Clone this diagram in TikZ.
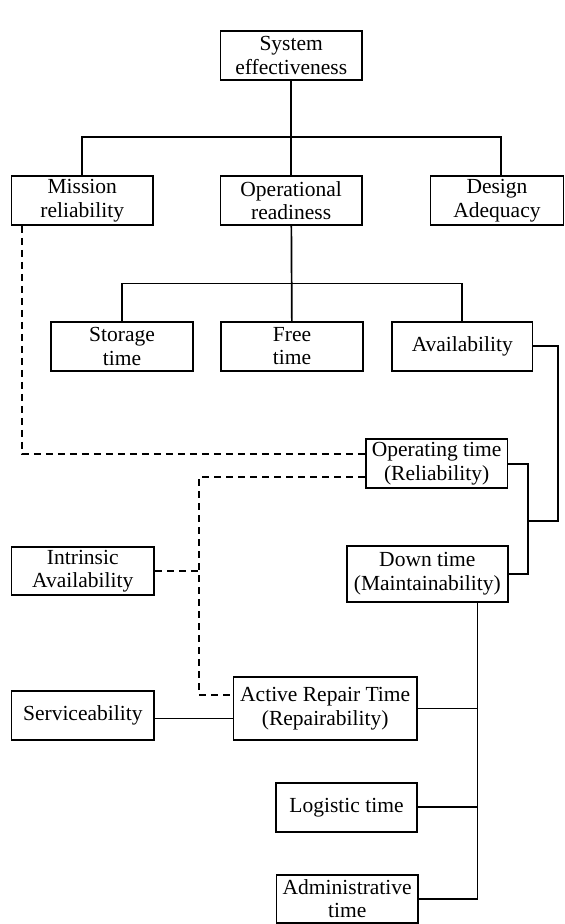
\documentclass[tikz,border=0pt]{standalone}
\usepackage{fontspec}
\setmainfont{Liberation Serif}
\begin{document}
\begin{tikzpicture}[x=1pt, y=-1pt, line width=1.7pt,
  box/.style={draw, align=center, inner sep=0pt, font=\fontsize{21.5}{23.5}\selectfont},
  dashline/.style={dash pattern=on 7pt off 5pt}]
\useasboundingbox (0,0) rectangle (565,924);
\node[box, minimum width=141.5pt, minimum height=49pt] (sys) at (291.2,55.3) {System\\effectiveness};
\node[box, minimum width=141.5pt, minimum height=49pt] (mission) at (82.2,200.5) {Mission\\reliability};
\node[box, minimum width=141.5pt, minimum height=49pt] (oper) at (291.2,200.5) {Operational\\readiness};
\node[box, minimum width=133pt, minimum height=49pt] (design) at (497,200.5) {Design\\Adequacy};
\coordinate (bus1) at (291.2,137);
\draw[] (sys) -- (oper);
\draw[] (mission.north) |- (bus1) -| ([xshift=4pt]design.north);
\node[box, minimum width=142pt, minimum height=49pt] (storage) at (122,346.3) {Storage\\time};
\node[box, minimum width=142pt, minimum height=49pt] (free) at (292,346.3) {Free\\time};
\node[box, minimum width=140.6pt, minimum height=49pt] (avail) at (462.3,346.3) {Availability};
\coordinate (bus2) at (291.2,283.5);
\draw[] (oper) -- (free);
\draw[] (storage.north) |- (bus2) -| (avail.north);
\node[box, minimum width=141.6pt, minimum height=49pt] (operating) at (436.6,463.8) {Operating time\\(Reliability)};
\node[box, minimum width=161.3pt, minimum height=56pt] (down) at (427.3,573.7) {Down time\\(Maintainability)};
\coordinate (avr) at (557.8,521);
\coordinate (avj) at (528,521);
\coordinate (dj) at (528,573.7);
\draw[] (avail.east) -| (avr) -- (avj);
\draw[] (operating.east) -| (dj) -- (down.east);
\node[box, minimum width=142.7pt, minimum height=48.6pt] (intrinsic) at (82.8,571) {Intrinsic\\Availability};
\node[box, minimum width=183.5pt, minimum height=62.7pt] (repair) at (325.2,708.6) {Active Repair Time\\(Repairability)};
\node[box, minimum width=142.7pt, minimum height=49pt] (service) at (82.8,715.5) {Serviceability};
\node[box, minimum width=141.6pt, minimum height=49pt] (logistic) at (346.5,807.2) {Logistic time};
\node[box, minimum width=141.6pt, minimum height=47.7pt] (admin) at (347.2,898.8) {Administrative\\time};
\coordinate (ia) at (199.3,571);
\coordinate (mb) at (477.5,898.8);
\draw[dashline] ([xshift=-60pt]mission.south) |- ([yshift=9.5pt]operating.west);
\draw[dashline] ([yshift=-13pt]operating.west) -| (ia) |- ([yshift=13.6pt]repair.west);
\draw[dashline] (intrinsic.east) -- (ia);
\draw[] ([yshift=-3pt]service.east) -- ([yshift=-3pt]service.east -| repair.west);
\draw[] ([xshift=50.2pt]down.south) -- (mb) -- (admin.east);
\draw[] (repair.east) -- (repair.east -| mb);
\draw[] (logistic.east) -- (logistic.east -| mb);
\end{tikzpicture}
\end{document}
